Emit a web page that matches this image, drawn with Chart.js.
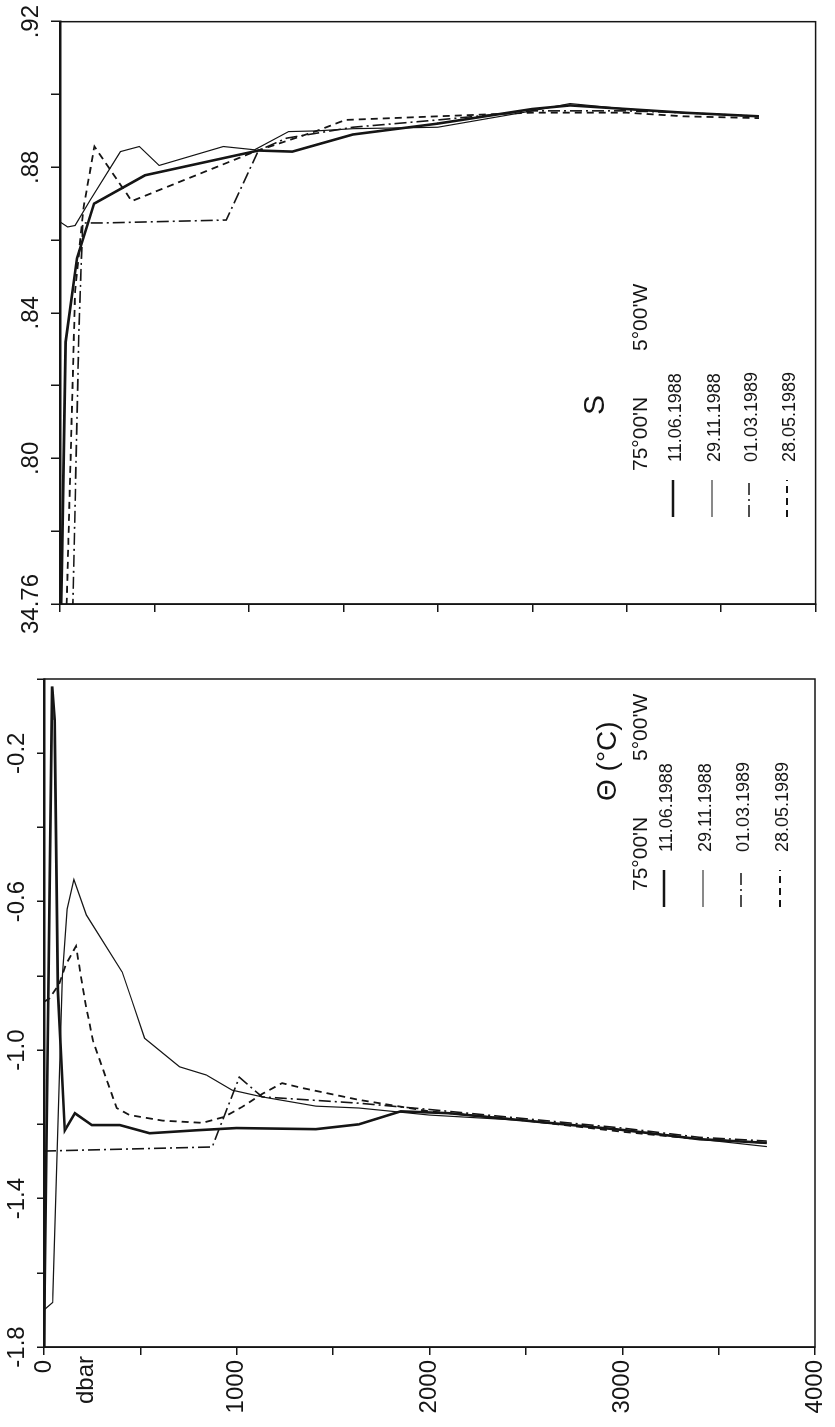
<!DOCTYPE html>
<html>
<head>
<meta charset="utf-8">
<script src="https://cdn.jsdelivr.net/npm/chart.js@4.4.0/dist/chart.umd.min.js"></script>
<style>
  html, body { margin: 0; padding: 0; background: #fff; overflow: hidden; }
  /* the figure is drawn upright and then turned a quarter turn, like the scan */
  #page { position: absolute; left: 0; top: 0; width: 1427px; height: 835px;
          transform-origin: 0 0; transform: translate(0, 1427px) rotate(-90deg); }
  canvas { position: absolute; top: 0; }
  #thetaChart { left: 0; }
  #saltChart { left: 760px; }
</style>
</head>
<body>
<div id="page">
  <canvas id="thetaChart" width="760" height="835"></canvas>
  <canvas id="saltChart" width="667" height="835"></canvas>
</div>
<script>
const dates = ["11.06.1988", "29.11.1988", "01.03.1989", "28.05.1989"];

// potential temperature profiles (pressure in dbar, theta in °C)
const thetaP1 = [0, 42, 55, 72, 108, 160, 248, 393, 548, 791, 998, 1411, 1633, 1850, 2100, 2500, 3000, 3400, 3750];
const theta1 = [-1.80, -0.02, -0.11, -0.84, -1.216, -1.17, -1.202, -1.202, -1.224, -1.216, -1.21, -1.213, -1.20, -1.165, -1.17, -1.19, -1.215, -1.24, -1.25];
const thetaP2 = [0, 45, 95, 120, 155, 220, 406, 455, 522, 703, 842, 977, 1132, 1411, 1633, 2000, 2500, 3000, 3400, 3750];
const theta2 = [-1.70, -1.68, -0.80, -0.62, -0.54, -0.636, -0.79, -0.865, -0.968, -1.045, -1.067, -1.108, -1.126, -1.151, -1.156, -1.175, -1.19, -1.215, -1.24, -1.26];
const thetaP3 = [0, 873, 1013, 1132, 1633, 2000, 2500, 3000, 3400, 3750];
const theta3 = [-1.272, -1.261, -1.073, -1.126, -1.143, -1.16, -1.185, -1.21, -1.235, -1.245];
const thetaP4 = [0, 30, 80, 113, 166, 212, 253, 331, 377, 444, 615, 822, 935, 1028, 1132, 1235, 1339, 1633, 2000, 2500, 3000, 3400, 3750];
const theta4 = [-0.87, -0.86, -0.82, -0.77, -0.72, -0.865, -0.973, -1.089, -1.156, -1.175, -1.19, -1.196, -1.18, -1.153, -1.118, -1.089, -1.102, -1.134, -1.165, -1.19, -1.22, -1.24, -1.25];

// salinity profiles
const saltP1 = [0, 10, 30, 90, 180, 450, 1050, 1230, 1550, 2000, 2500, 2700, 3000, 3300, 3700];
const salt1 = [34.74, 34.77, 34.832, 34.855, 34.870, 34.8778, 34.8846, 34.8843, 34.889, 34.892, 34.896, 34.897, 34.896, 34.895, 34.894];
const saltP2 = [0, 40, 80, 160, 320, 420, 525, 865, 1030, 1210, 1360, 1550, 2000, 2500, 2700, 3000, 3300, 3700];
const salt2 = [34.865, 34.8636, 34.864, 34.871, 34.8843, 34.8857, 34.8805, 34.8857, 34.8848, 34.8898, 34.890, 34.8906, 34.891, 34.8955, 34.8975, 34.896, 34.895, 34.894];
const saltP3 = [60, 100, 120, 230, 880, 1050, 1200, 1550, 2000, 2500, 3000, 3300, 3700];
const salt3 = [34.74, 34.835, 34.8647, 34.8647, 34.8655, 34.8846, 34.888, 34.891, 34.893, 34.8955, 34.8955, 34.895, 34.894];
const saltP4 = [25, 80, 125, 182, 380, 1031, 1360, 1510, 2000, 2500, 3000, 3300, 3700];
const salt4 = [34.74, 34.846, 34.869, 34.8857, 34.8707, 34.8843, 34.890, 34.893, 34.894, 34.895, 34.895, 34.894, 34.8935];

const ink = "#151515";
const font = "'Liberation Sans', Arial, sans-serif";
const lineStyles = [
  { borderWidth: 2.6, borderDash: [] },
  { borderWidth: 1.2, borderDash: [] },
  { borderWidth: 1.6, borderDash: [12, 4, 2, 4] },
  { borderWidth: 1.8, borderDash: [7, 5] },
];

function toPoints(pres, vals) {
  return pres.map((p, i) => ({ x: vals[i], y: p }));
}

function makeSets(series) {
  return series.map((s, i) => ({
    label: dates[i],
    data: toPoints(s[0], s[1]),
    borderColor: ink,
    borderWidth: lineStyles[i].borderWidth,
    borderDash: lineStyles[i].borderDash,
    pointRadius: 0,
    showLine: true,
    tension: 0,
  }));
}

// frame round the plot area
const framePlugin = {
  id: "frame",
  afterDatasetsDraw(chart) {
    const { ctx, chartArea: a } = chart;
    ctx.save();
    ctx.strokeStyle = ink;
    ctx.lineWidth = 1.5;
    ctx.strokeRect(a.left, a.top, a.right - a.left, a.bottom - a.top);
    ctx.restore();
  },
};

// titles, station and the line key written inside the plot
const notesPlugin = {
  id: "notes",
  afterDraw(chart, args, opts) {
    const ctx = chart.ctx;
    ctx.save();
    ctx.fillStyle = ink;
    ctx.textBaseline = "middle";
    (opts.texts || []).forEach(t => {
      ctx.font = t.size + "px " + font;
      ctx.textAlign = t.align || "left";
      ctx.fillText(t.text, t.x, t.y);
    });
    const k = opts.key;
    if (k) {
      chart.data.datasets.forEach((ds, i) => {
        const y = k.y[i];
        ctx.strokeStyle = ink;
        ctx.lineWidth = ds.borderWidth;
        ctx.setLineDash(ds.borderDash);
        ctx.beginPath();
        ctx.moveTo(k.x0, y);
        ctx.lineTo(k.x1, y);
        ctx.stroke();
        ctx.setLineDash([]);
        ctx.font = k.size + "px " + font;
        ctx.textAlign = "left";
        ctx.fillText(ds.label, k.tx, y + 3);
      });
    }
    ctx.restore();
  },
};

function pressureAxis(width, labels) {
  return {
    type: "linear",
    position: "left",
    reverse: true,
    min: 0,
    max: 4000,
    ticks: {
      stepSize: 500,
      autoSkip: false,
      color: ink,
      padding: 5,
      font: { family: font, size: 24 },
      callback: v => (labels && v % 1000 === 0 ? String(v) : ""),
    },
    grid: { drawOnChartArea: false, tickLength: 8, color: ink, lineWidth: 1.5 },
    border: { color: ink, width: 1.5 },
    afterFit: s => { s.width = width; },
  };
}

function valueAxis(min, max, step, height, tickLen, callback) {
  return {
    type: "linear",
    position: "top",
    min: min,
    max: max,
    ticks: {
      stepSize: step,
      autoSkip: false,
      maxRotation: 0,
      color: ink,
      padding: 5,
      font: { family: font, size: 24 },
      callback: callback,
    },
    grid: { drawOnChartArea: false, tickLength: tickLen, color: ink, lineWidth: 1.5 },
    border: { color: ink, width: 2.5 },
    afterFit: s => { s.height = height; },
  };
}

new Chart(document.getElementById("thetaChart"), {
  type: "scatter",
  data: { datasets: makeSets([[thetaP1, theta1], [thetaP2, theta2], [thetaP3, theta3], [thetaP4, theta4]]) },
  options: {
    responsive: false,
    animation: false,
    devicePixelRatio: 1,
    layout: { padding: { top: 0, left: 0, right: 12, bottom: 20 } },
    scales: {
      x: valueAxis(-1.8, 0, 0.2, 44, 7, v => {
        const k = Math.round(v * 10);
        return (k + 18) % 4 === 0 ? (k / 10).toFixed(1) : "";
      }),
      y: pressureAxis(80, true),
    },
    plugins: {
      legend: { display: false },
      tooltip: { enabled: false },
      notes: {
        texts: [
          { text: "dbar", x: 71, y: 86, size: 24, align: "right" },
          { text: "\u0398 (\u00b0C)", x: 626, y: 608, size: 28 },
          { text: "75\u00b000'N", x: 536, y: 641, size: 21 },
          { text: "5\u00b000'W", x: 666, y: 641, size: 21 },
        ],
        key: { x0: 520, x1: 557, tx: 575, y: [664, 703, 741, 780], size: 18 },
      },
    },
  },
  plugins: [framePlugin, notesPlugin],
});

new Chart(document.getElementById("saltChart"), {
  type: "scatter",
  data: { datasets: makeSets([[saltP1, salt1], [saltP2, salt2], [saltP3, salt3], [saltP4, salt4]]) },
  options: {
    responsive: false,
    animation: false,
    devicePixelRatio: 1,
    layout: { padding: { top: 0, left: 0, right: 17, bottom: 7 } },
    scales: {
      x: valueAxis(34.76, 34.92, 0.02, 60, 9, v => {
        const k = Math.round(v * 100);
        if ((k - 3476) % 4 !== 0) return "";
        return k === 3476 ? "34.76" : "." + String(k % 100).padStart(2, "0");
      }),
      y: pressureAxis(63, false),
    },
    plugins: {
      legend: { display: false },
      tooltip: { enabled: false },
      notes: {
        texts: [
          { text: "S", x: 252, y: 596, size: 30 },
          { text: "75\u00b000'N", x: 196, y: 641, size: 21 },
          { text: "5\u00b000'W", x: 316, y: 641, size: 21 },
        ],
        key: { x0: 150, x1: 187, tx: 205, y: [673, 712, 749, 787], size: 18 },
      },
    },
  },
  plugins: [framePlugin, notesPlugin],
});
</script>
</body>
</html>
